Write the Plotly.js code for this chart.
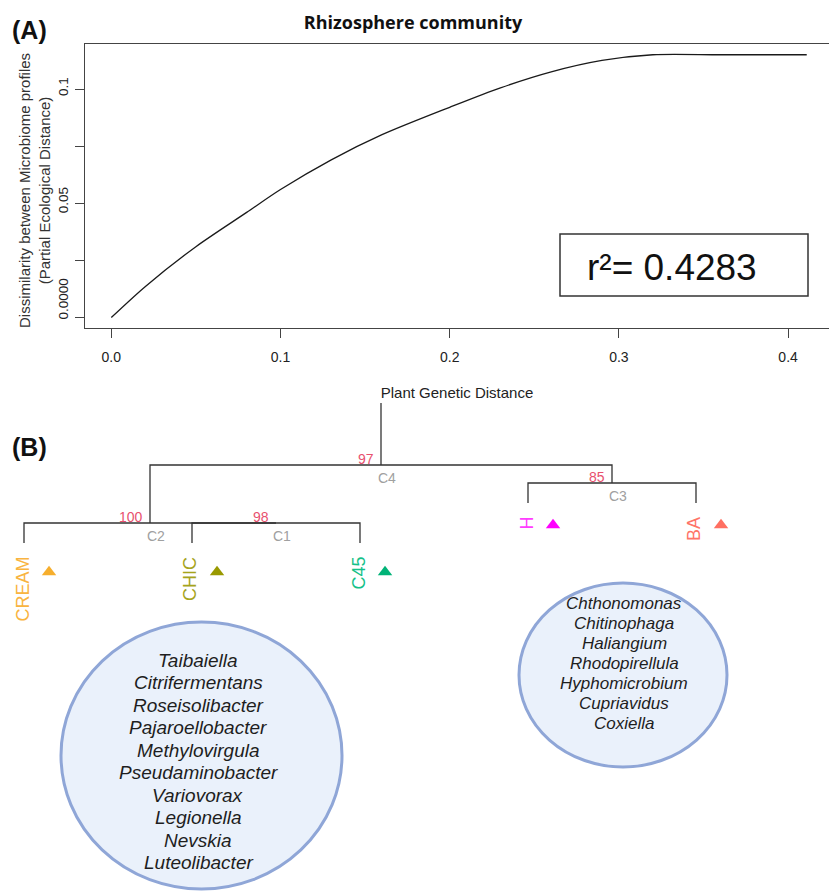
<!DOCTYPE html>
<html><head><meta charset="utf-8">
<script src="https://cdn.plot.ly/plotly-3.0.1.min.js"></script>
<style>html,body{margin:0;padding:0;background:#fff}#chart{width:829px;height:896px}</style>
</head><body><div id="chart"></div>
<script>
// ---------- Panel A data: GDM I-spline ----------
const geneticDistance    = [0, 0.02, 0.05, 0.08, 0.10, 0.13, 0.16, 0.20, 0.23, 0.26, 0.29, 0.32, 0.36, 0.411];
const partialEcoDistance = [0, 0.0135, 0.031, 0.046, 0.056, 0.069, 0.080, 0.092, 0.1005, 0.1075, 0.1125, 0.115, 0.115, 0.115];
const xTickVals = [0, 0.1, 0.2, 0.3, 0.4];
const xTickText = ['0.0', '0.1', '0.2', '0.3', '0.4'];
const yTickVals = [0, 0.025, 0.05, 0.075, 0.1];
const yTickText = ['0.0000', '', '0.05', '', '0.1'];
const rSquaredText = 'r²= 0.4283';

// ---------- Panel B data: dendrogram ----------
const leaves        = ['CREAM', 'CHIC', 'C45', 'H', 'BA'];
const leafTipHeight = [0, 0, 0, 2, 2];
const clusterNames    = ['C1', 'C2', 'C3', 'C4'];
const clusterChildren = [['CHIC', 'C45'], ['CREAM', 'C1'], ['H', 'BA'], ['C2', 'C3']];
const clusterHeight   = [1, 1, 3, 3.9];
const bootstrap       = [98, 100, 85, 97];
const rootHeight      = 7.0;
const generaGroup1 = ['Taibaiella', 'Citrifermentans', 'Roseisolibacter', 'Pajaroellobacter', 'Methylovirgula',
                      'Pseudaminobacter', 'Variovorax', 'Legionella', 'Nevskia', 'Luteolibacter'];
const generaGroup2 = ['Chthonomonas', 'Chitinophaga', 'Haliangium', 'Rhodopirellula', 'Hyphomicrobium',
                      'Cupriavidus', 'Coxiella'];

// ---------- styles ----------
const leafLabelColors = ['#F9B440', '#A6A41C', '#14C189', '#FF3DFF', '#FF7468'];
const leafTriColors   = ['#F6AE2D', '#999900', '#00B377', '#FF00FF', '#FF6F61'];
const W = 829, H = 896;
const px = v => v / W, py = v => 1 - v / H;
const FONT = 'Liberation Sans, Arial, sans-serif';

// ---------- dendrogram geometry from data ----------
const node = {};
leaves.forEach((l, i) => node[l] = {x: i, h: leafTipHeight[i]});
const segX = [], segY = [];
clusterNames.forEach((c, k) => {
  const [a, b] = clusterChildren[k].map(n => node[n]);
  const h = clusterHeight[k];
  segX.push(a.x, a.x, b.x, b.x, null);
  segY.push(a.h, h, h, b.h, null);
  node[c] = {x: (a.x + b.x) / 2, h: h};
});
const rootNode = node[clusterNames[clusterNames.length - 1]];
segX.push(rootNode.x, rootNode.x, null); segY.push(rootNode.h, rootHeight, null);

const triX = leaves.map((l, i) => i + 0.149);
const triY = leaves.map((l, i) => leafTipHeight[i] - (leafTipHeight[i] > 0 ? 1.1 : 1.45));

const traces = [
  {x: geneticDistance, y: partialEcoDistance, type: 'scatter', mode: 'lines',
   line: {color: '#1a1a1a', width: 1.3, shape: 'spline', smoothing: 0.8},
   xaxis: 'x', yaxis: 'y', hoverinfo: 'skip', cliponaxis: false},
  {x: segX, y: segY, type: 'scatter', mode: 'lines', line: {color: '#333', width: 1.3},
   xaxis: 'x2', yaxis: 'y2', hoverinfo: 'skip'},
  {x: triX, y: triY, type: 'scatter', mode: 'markers',
   marker: {symbol: 'triangle-up', size: 12.5, color: leafTriColors, line: {width: 0}},
   xaxis: 'x2', yaxis: 'y2', hoverinfo: 'skip'}
];

const annotations = [];
annotations.push({text: '<b>(A)</b>', xref: 'paper', yref: 'paper', x: px(10), y: py(30), xanchor: 'left', yanchor: 'middle',
  showarrow: false, font: {family: FONT, size: 25, color: '#111'}});
annotations.push({text: '<b>(B)</b>', xref: 'paper', yref: 'paper', x: px(10), y: py(447), xanchor: 'left', yanchor: 'middle',
  showarrow: false, font: {family: FONT, size: 25, color: '#111'}});
annotations.push({text: 'Dissimilarity between Microbiome profiles<br>(Partial Ecological Distance)',
  xref: 'paper', yref: 'paper', x: px(35), y: py(191), textangle: -90, showarrow: false,
  xanchor: 'center', yanchor: 'middle', font: {family: FONT, size: 15, color: '#333'}});
yTickVals.forEach((v, i) => {
  if (!yTickText[i]) return;
  annotations.push({text: yTickText[i], xref: 'paper', yref: 'y', x: px(63), y: v, textangle: -90,
    xanchor: 'center', yanchor: 'middle', yshift: v === 0 ? 19 : 3, showarrow: false,
    font: {family: FONT, size: 13.5, color: '#222'}});
});
annotations.push({text: rSquaredText, xref: 'paper', yref: 'paper', x: px(585), y: py(267), xanchor: 'left', yanchor: 'middle',
  showarrow: false, font: {family: FONT, size: 37, color: '#111'}});
clusterNames.forEach((c, k) => {
  const n = node[c];
  annotations.push({text: String(bootstrap[k]), xref: 'x2', yref: 'y2', x: n.x, y: n.h, xanchor: 'right', yanchor: 'bottom',
    xshift: -5, yshift: -4, showarrow: false, font: {family: FONT, size: 14, color: '#E8506E'}});
  annotations.push({text: c, xref: 'x2', yref: 'y2', x: n.x, y: n.h, xanchor: 'center', yanchor: 'top',
    xshift: 6, yshift: -3, showarrow: false, font: {family: FONT, size: 14, color: '#A0A0A0'}});
});
leaves.forEach((l, i) => {
  annotations.push({text: l, xref: 'x2', yref: 'y2', x: i, y: leafTipHeight[i], textangle: -90,
    xanchor: 'center', yanchor: 'top', xshift: -2, yshift: -12, showarrow: false,
    font: {family: FONT, size: 18, color: leafLabelColors[i]}});
});
generaGroup1.forEach((g, i) => {
  annotations.push({text: '<i>' + g + '</i>', xref: 'paper', yref: 'paper', x: px(198), y: py(660 + 22.5 * i),
    xanchor: 'center', yanchor: 'middle', showarrow: false, font: {family: FONT, size: 19, color: '#1e1e1e'}});
});
generaGroup2.forEach((g, i) => {
  annotations.push({text: '<i>' + g + '</i>', xref: 'paper', yref: 'paper', x: px(624), y: py(603 + 20 * i),
    xanchor: 'center', yanchor: 'middle', showarrow: false, font: {family: FONT, size: 17, color: '#1e1e1e'}});
});

const shapes = [
  {type: 'rect', xref: 'paper', yref: 'paper', x0: px(560), x1: px(808), y0: py(234), y1: py(296),
   line: {color: '#333', width: 1.5}, fillcolor: 'rgba(0,0,0,0)'},
  {type: 'circle', xref: 'paper', yref: 'paper', x0: px(61), x1: px(342), y0: py(622), y1: py(889),
   line: {color: '#8FA6D7', width: 3}, fillcolor: '#EAF1FB', layer: 'below'},
  {type: 'circle', xref: 'paper', yref: 'paper', x0: px(519), x1: px(727), y0: py(583), y1: py(767),
   line: {color: '#8FA6D7', width: 3}, fillcolor: '#EAF1FB', layer: 'below'}
];

const layout = {
  width: W, height: H, margin: {l: 0, r: 0, t: 0, b: 0},
  paper_bgcolor: '#fff', plot_bgcolor: 'rgba(0,0,0,0)', showlegend: false,
  title: {text: '<b>Rhizosphere community</b>', x: px(413), y: py(23), xref: 'paper', yref: 'paper',
          xanchor: 'center', yanchor: 'middle', font: {family: 'Open Sans, sans-serif', size: 18, color: '#111'}},
  xaxis: {domain: [px(85), 1], range: [-0.01554, 0.42417], anchor: 'y',
          showline: true, mirror: true, linecolor: '#444', linewidth: 1.2,
          showgrid: false, zeroline: false, ticks: 'outside', ticklen: 9, tickcolor: '#444', tickwidth: 1,
          tickvals: xTickVals, ticktext: xTickText, ticklabelstandoff: 7,
          tickfont: {family: FONT, size: 14, color: '#222'},
          title: {text: 'Plant Genetic Distance', font: {family: FONT, size: 15, color: '#222'}, standoff: 23}},
  yaxis: {domain: [py(328), py(44)], range: [-0.0046, 0.1197], anchor: 'x',
          showline: true, mirror: false, linecolor: '#444', linewidth: 1.2,
          showgrid: false, zeroline: false, ticks: 'outside', ticklen: 9, tickcolor: '#444', tickwidth: 1,
          tickvals: yTickVals, showticklabels: false},
  xaxis2: {domain: [0, 1], range: [-24 / 168, (W - 24) / 168], anchor: 'y2', visible: false, fixedrange: true},
  yaxis2: {domain: [0, 1], range: [(543 - H) / 20, 543 / 20], anchor: 'x2', visible: false, fixedrange: true},
  annotations: annotations, shapes: shapes
};

Plotly.newPlot('chart', traces, layout, {staticPlot: true, displayModeBar: false});
</script></body></html>
